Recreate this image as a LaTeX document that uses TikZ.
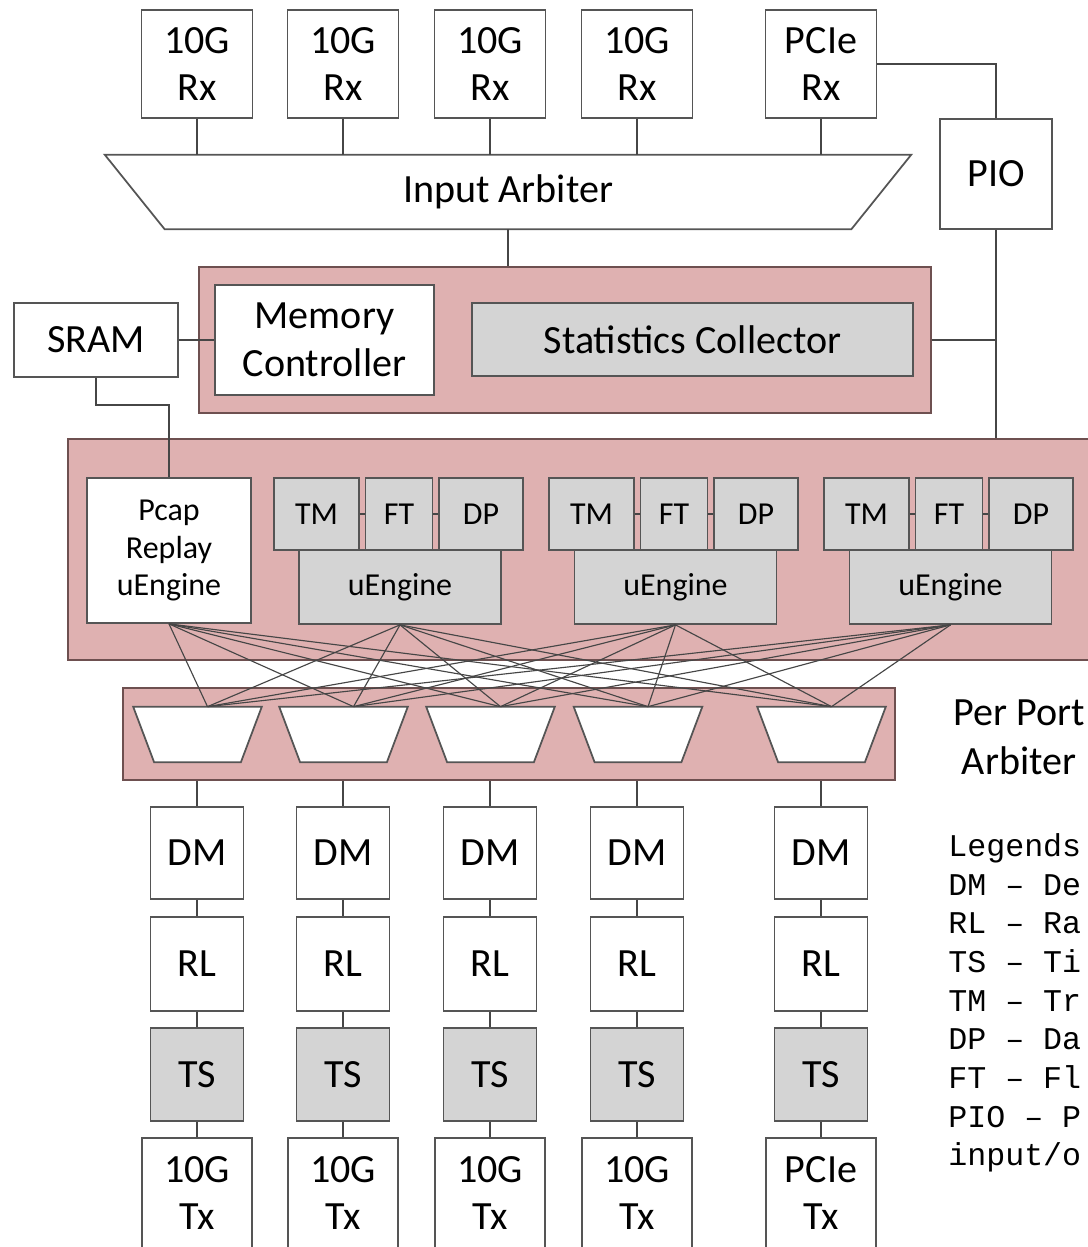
\documentclass[tikz,border=0pt]{standalone}
\usepackage{fontspec}
\usepackage{tikz}
\setmainfont{Carlito}
\newfontfamily\legendfont{Liberation Mono}

\definecolor{pinkfill}{RGB}{223,177,177}
\definecolor{pinkline}{RGB}{110,80,80}
\definecolor{unitgrey}{RGB}{212,212,212}
\definecolor{boxline}{RGB}{85,85,85}
\definecolor{wireline}{RGB}{70,70,70}

\begin{document}
\begin{tikzpicture}[x=0.02cm,y=-0.02cm,
	box/.style={shape=rectangle,draw=boxline,line width=1pt,fill=white,inner sep=0pt,align=center,font=\fontsize{22.8}{27.3}\selectfont},
	smallbox/.style={box,font=\fontsize{18.2}{21.6}\selectfont},
	greybox/.style={box,fill=unitgrey},
	smallgrey/.style={smallbox,fill=unitgrey},
	pinkbox/.style={shape=rectangle,draw=pinkline,fill=pinkfill,line width=1pt},
	wire/.style={draw=wireline,line width=0.8pt},
	xwire/.style={draw=wireline,line width=0.65pt}]
	\useasboundingbox (0,0) rectangle (1088,1247);

	% receive side
	\node [box,minimum width=2.22cm,minimum height=2.16cm] (R1) at (197,64) {10G\\Rx};
	\node [box,minimum width=2.22cm,minimum height=2.16cm] (R2) at (343,64) {10G\\Rx};
	\node [box,minimum width=2.22cm,minimum height=2.16cm] (R3) at (490,64) {10G\\Rx};
	\node [box,minimum width=2.22cm,minimum height=2.16cm] (R4) at (637,64) {10G\\Rx};
	\node [box,minimum width=2.22cm,minimum height=2.16cm] (R5) at (821,64) {PCIe\\Rx};
	\node [box,minimum width=2.24cm,minimum height=2.2cm] (PIO) at (996,174) {PIO};

	\node [inner sep=0pt,minimum width=16.12cm,minimum height=1.48cm,font=\fontsize{22.8}{27.3}\selectfont] (IA) at (508,192) {Input Arbiter};
	\draw [boxline,line width=1pt] (IA.north west) -- (IA.north east) -- ([xshift=-1.2cm]IA.south east) -- ([xshift=1.2cm]IA.south west) -- cycle;

	% memory and statistics
	\node [pinkbox,minimum width=14.64cm,minimum height=2.92cm] (MEM) at (565,340) {};
	\node [box,minimum width=4.38cm,minimum height=2.2cm] (MC) at (324.5,340) {Memory\\Controller};
	\node [greybox,minimum width=8.82cm,minimum height=1.46cm] (SC) at (692.5,339.5) {Statistics Collector};
	\node [box,minimum width=3.28cm,minimum height=1.48cm] (SRAM) at (96,340) {SRAM};

	% engines
	\node [pinkbox,minimum width=20.64cm,minimum height=4.42cm] (ENG) at (584,549.5) {};
	\node [smallbox,minimum width=3.28cm,minimum height=2.9cm] (PR) at (169,550.5) {Pcap\\Replay\\uEngine};
	\node [smallgrey,minimum width=4.04cm,minimum height=1.48cm] (UE1) at (400,587) {uEngine};
	\node [smallgrey,minimum width=4.04cm,minimum height=1.48cm] (UE2) at (675.5,587) {uEngine};
	\node [smallgrey,minimum width=4.04cm,minimum height=1.48cm] (UE3) at (950.5,587) {uEngine};
	\node [smallgrey,minimum width=1.7cm,minimum height=1.44cm] (TM1) at (316.5,514) {TM};
	\node [smallgrey,minimum width=1.34cm,minimum height=1.44cm] (FT1) at (399,514) {FT};
	\node [smallgrey,minimum width=1.68cm,minimum height=1.44cm] (DP1) at (481,514) {DP};
	\node [smallgrey,minimum width=1.7cm,minimum height=1.44cm] (TM2) at (591.5,514) {TM};
	\node [smallgrey,minimum width=1.34cm,minimum height=1.44cm] (FT2) at (674,514) {FT};
	\node [smallgrey,minimum width=1.68cm,minimum height=1.44cm] (DP2) at (756,514) {DP};
	\node [smallgrey,minimum width=1.7cm,minimum height=1.44cm] (TM3) at (866.5,514) {TM};
	\node [smallgrey,minimum width=1.34cm,minimum height=1.44cm] (FT3) at (949,514) {FT};
	\node [smallgrey,minimum width=1.68cm,minimum height=1.44cm] (DP3) at (1031,514) {DP};

	% per port arbiters
	\node [pinkbox,minimum width=15.44cm,minimum height=1.84cm] (PPA) at (509,734) {};
	\foreach \i/\x in {1/197.5,2/343.5,3/490.5,4/638,5/821.5} {
		\node [inner sep=0pt,minimum width=2.56cm,minimum height=1.1cm] (A\i) at (\x,734.5) {};
		\draw [boxline,fill=white,line width=1pt] (A\i.north west) -- (A\i.north east) -- ([xshift=-0.42cm]A\i.south east) -- ([xshift=0.42cm]A\i.south west) -- cycle;
	}
	\node [align=center,inner sep=0pt,font=\fontsize{22.8}{27.9}\selectfont] (PPL) at (1019,737.5) {Per Port\\Arbiter};

	% output columns
	\foreach \i/\x/\t in {1/197/10G,2/343/10G,3/490/10G,4/637/10G,5/821/PCIe} {
		\node [box,minimum width=1.86cm,minimum height=1.84cm] (DM\i) at (\x,853) {DM};
		\node [box,minimum width=1.86cm,minimum height=1.88cm] (RL\i) at (\x,964) {RL};
		\node [greybox,minimum width=1.86cm,minimum height=1.86cm] (TS\i) at (\x,1074.5) {TS};
		\node [box,minimum width=2.2cm,minimum height=2.2cm] (TX\i) at (\x,1193) {\t\\Tx};
		\path [wire] (DM\i) edge (DM\i |- PPA.south);
		\path [wire] (DM\i) edge (RL\i);
		\path [wire] (RL\i) edge (TS\i);
		\path [wire] (TS\i) edge (TX\i);
	}

	\node [inner sep=0pt,anchor=west,align=left,font=\legendfont\fontsize{18}{22}\selectfont] (LEG) at (948,1003) {Legends\\DM – De\\RL – Ra\\TS – Ti\\TM – Tr\\DP – Da\\FT – Fl\\PIO – P\\input/o};

	% wiring
	\path [wire] (R1) edge (R1 |- IA.north);
	\path [wire] (R2) edge (R2 |- IA.north);
	\path [wire] (R3) edge (R3 |- IA.north);
	\path [wire] (R4) edge (R4 |- IA.north);
	\path [wire] (R5) edge (R5 |- IA.north);
	\draw [wire] (R5.east) -| (PIO);
	\path [wire] (IA) edge (IA |- MEM.north);
	\path [wire] (PIO) edge (PIO |- ENG.north);
	\path [wire] (MEM) edge (MEM -| PIO);
	\path [wire] (SRAM) edge (MC);
	\draw [wire] (SRAM.south) -- ++(0,27) -| (PR);
	\path [wire] (TM1) edge (FT1) (FT1) edge (DP1);
	\path [wire] (TM2) edge (FT2) (FT2) edge (DP2);
	\path [wire] (TM3) edge (FT3) (FT3) edge (DP3);
	\foreach \s in {PR,UE1,UE2,UE3}
		\foreach \d in {1,...,5}
			\draw [xwire] (\s.south) -- ([xshift=0.2cm]A\d.north);
\end{tikzpicture}
\end{document}
